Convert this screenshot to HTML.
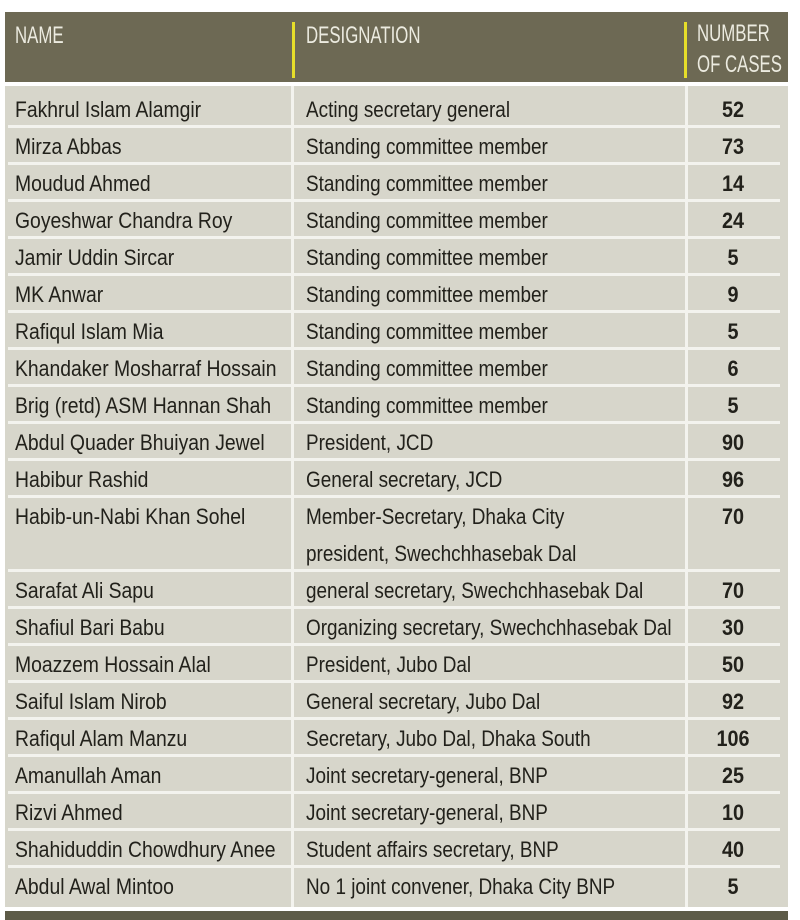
<!DOCTYPE html>
<html><head><meta charset="utf-8"><style>
body{margin:0;width:800px;height:920px;background:#fff;position:relative;overflow:hidden;font-family:"Liberation Sans Narrow","Liberation Sans",sans-serif;}
.hd{position:absolute;left:5px;top:12px;width:783px;height:70px;background:#6d6954;}
.bar{position:absolute;top:22px;width:3px;height:56px;background:#e6de2a;}
.ht{position:absolute;color:#ecebe0;font-size:24px;transform:scaleX(0.7);transform-origin:left top;white-space:nowrap;line-height:26px;}
.body{position:absolute;left:5px;top:86px;width:783px;height:821px;background:#d7d6cb;}
.vl{position:absolute;top:86px;width:3px;height:821px;background:#f3f3ee;}
.hl{position:absolute;left:8px;width:772px;height:3px;background:#f3f3ee;}
.c{position:absolute;font-size:22px;color:#22211b;white-space:nowrap;line-height:37px;transform:scaleX(0.88);transform-origin:left top;}
.c.d{transform:scaleX(0.86);}
.n{position:absolute;font-size:22px;font-weight:bold;color:#22211b;line-height:37px;width:100px;text-align:center;left:683px;transform:scaleX(0.9);transform-origin:center top;}
.foot{position:absolute;left:5px;top:911px;width:783px;height:9px;background:#5d5b48;}
</style></head><body>
<div class="hd"></div>
<div class="bar" style="left:292px"></div>
<div class="bar" style="left:684px"></div>
<div class="ht" style="left:15px;top:23px">NAME</div>
<div class="ht" style="left:306px;top:23px">DESIGNATION</div>
<div class="ht" style="left:697px;top:21px">NUMBER</div>
<div class="ht" style="left:697px;top:52px">OF CASES</div>
<div class="body"></div>
<div class="vl" style="left:291px"></div>
<div class="vl" style="left:685px"></div>
<div id="rows"></div>
<div class="foot"></div>
<script>
var d=[["Fakhrul Islam Alamgir","Acting secretary general","52"],["Mirza Abbas","Standing committee member","73"],["Moudud Ahmed","Standing committee member","14"],["Goyeshwar Chandra Roy","Standing committee member","24"],["Jamir Uddin Sircar","Standing committee member","5"],["MK Anwar","Standing committee member","9"],["Rafiqul Islam Mia","Standing committee member","5"],["Khandaker Mosharraf Hossain","Standing committee member","6"],["Brig (retd) ASM Hannan Shah","Standing committee member","5"],["Abdul Quader Bhuiyan Jewel","President, JCD","90"],["Habibur Rashid","General secretary, JCD","96"],["Habib-un-Nabi Khan Sohel","Member-Secretary, Dhaka City<br>president, Swechchhasebak Dal","70"],["Sarafat Ali Sapu","general secretary, Swechchhasebak Dal","70"],["Shafiul Bari Babu","Organizing secretary, Swechchhasebak Dal","30"],["Moazzem Hossain Alal","President, Jubo Dal","50"],["Saiful Islam Nirob","General secretary, Jubo Dal","92"],["Rafiqul Alam Manzu","Secretary, Jubo Dal, Dhaka South","106"],["Amanullah Aman","Joint secretary-general, BNP","25"],["Rizvi Ahmed","Joint secretary-general, BNP","10"],["Shahiduddin Chowdhury Anee","Student affairs secretary, BNP","40"],["Abdul Awal Mintoo","No 1 joint convener, Dhaka City BNP","5"]];
var h="",y=91;
for(var i=0;i<d.length;i++){var hh=i==11?74:37;
h+='<div class="c" style="left:15px;top:'+y+'px">'+d[i][0]+'</div>';
h+='<div class="c d" style="left:306px;top:'+y+'px">'+d[i][1]+'</div>';
h+='<div class="n" style="top:'+y+'px">'+d[i][2]+'</div>';
y+=hh;if(i<d.length-1)h+='<div class="hl" style="top:'+(y-3)+'px"></div>';}
document.getElementById("rows").innerHTML=h;
</script>
</body></html>
